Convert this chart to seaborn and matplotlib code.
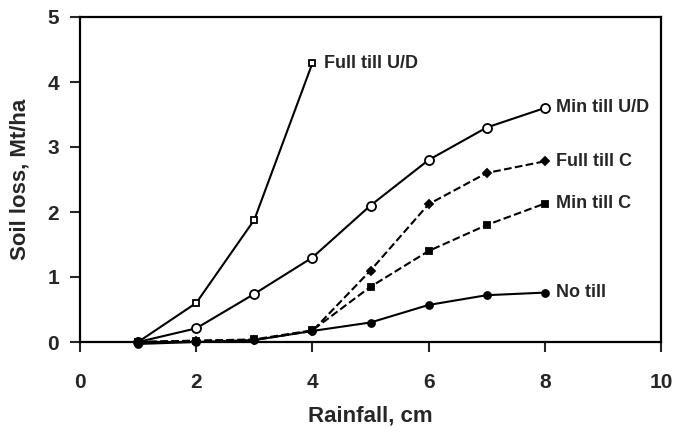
import numpy as np
import pandas as pd
import matplotlib
matplotlib.use("Agg")
import matplotlib.pyplot as plt
import seaborn as sns

# === DATA ===
rain = [1, 2, 3, 4, 5, 6, 7, 8]
full_till_ud = [0.0, 0.6, 1.88, 4.29]
min_till_ud = [0.0, 0.21, 0.74, 1.3, 2.1, 2.8, 3.3, 3.6]
full_till_c = [0.0, 0.02, 0.03, 0.17, 1.1, 2.12, 2.6, 2.78]
min_till_c = [0.0, 0.02, 0.04, 0.18, 0.85, 1.4, 1.8, 2.13]
no_till = [-0.03, 0.0, 0.03, 0.17, 0.3, 0.57, 0.72, 0.76]

series = [
    ("Full till U/D", full_till_ud, "s", "white", "-", 5),
    ("Min till U/D", min_till_ud, "o", "white", "-", 6.5),
    ("Full till C", full_till_c, "D", "black", "--", 4.5),
    ("Min till C", min_till_c, "s", "black", "--", 4.5),
    ("No till", no_till, "o", "black", "-", 5),
]

sns.set_style("ticks")
plt.rcParams['font.family'] = ['Liberation Sans', 'DejaVu Sans']
plt.rcParams['font.weight'] = 'bold'

fig = plt.figure(figsize=(6.73, 4.37), dpi=100)
ax = fig.add_axes([80/673, 95/437, 581/673, 325/437])

for name, vals, mk, fc, ls, ms in series:
    sns.lineplot(x=rain[:len(vals)], y=vals, ax=ax, color="black", linestyle=ls,
                 marker=mk, markersize=ms, markerfacecolor=fc, markeredgecolor="black",
                 markeredgewidth=1.3, linewidth=1.5, zorder=3, clip_on=False)
    ax.annotate(name, (rain[len(vals) - 1], vals[-1]), xytext=(8, 0),
                textcoords="offset points", va="center", ha="left",
                fontsize=13, fontweight="bold")

ax.set_xlim(0, 10)
ax.set_ylim(0, 5)
ax.set_xticks(range(0, 11, 2))
ax.set_yticks(range(0, 6))
for s in ax.spines.values():
    s.set_visible(True)
    s.set_linewidth(1.6)
    s.set_color("black")
ax.tick_params(axis="both", direction="out", length=7, width=1.5, labelsize=15)
ax.tick_params(axis="x", pad=15)
ax.tick_params(axis="y", pad=8)
for lab in ax.get_xticklabels() + ax.get_yticklabels():
    lab.set_fontweight("bold")
ax.set_xlabel("Rainfall, cm", fontsize=16, fontweight="bold", labelpad=10)
ax.set_ylabel("Soil loss, Mt/ha", fontsize=16, fontweight="bold", labelpad=12)

fig.savefig("out.png", dpi=100)
